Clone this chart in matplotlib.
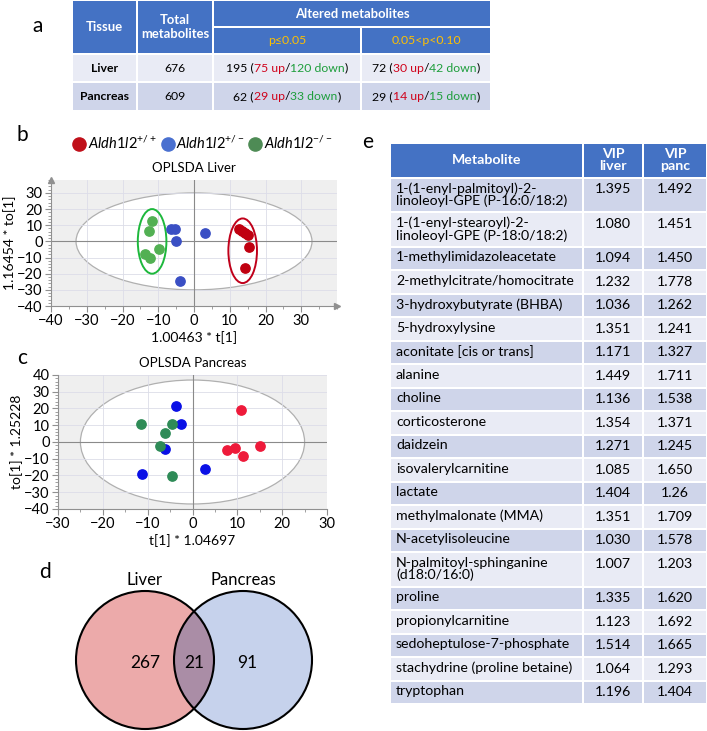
import numpy as np
import matplotlib.pyplot as plt
from matplotlib.patches import Rectangle, Ellipse, Circle
from matplotlib.lines import Line2D
from matplotlib.ticker import MultipleLocator

plt.rcParams['font.family'] = ['Lato', 'DejaVu Sans']
plt.rcParams['mathtext.fontset'] = 'custom'
plt.rcParams['mathtext.it'] = 'Lato:italic'
plt.rcParams['mathtext.rm'] = 'Lato'

W, H = 707, 731

# ---------- panel a data ----------
tissues = ["Liver", "Pancreas"]
total_metabolites = [676, 609]
p05_total = [195, 62]
p05_up = [75, 29]
p05_down = [120, 33]
p10_total = [72, 29]
p10_up = [30, 14]
p10_down = [42, 15]

# ---------- panel b data (OPLSDA liver scores) ----------
liver_wt_x = [12.6, 13.5, 14.2, 15.2, 15.5, 14.3]
liver_wt_y = [7.5, 6.5, 5.2, 4.0, -3.5, -16.5]
liver_het_x = [-6.3, -5.3, -4.9, 3.2, -3.8]
liver_het_y = [7.8, 7.8, 0.5, 5.5, -24.5]
liver_ko_x = [-11.8, -12.6, -9.7, -13.7, -12.3]
liver_ko_y = [12.5, 6.5, -4.5, -8.0, -10.5]

# ---------- panel c data (OPLSDA pancreas scores) ----------
panc_wt_x = [10.8, 7.8, 9.5, 11.3, 15.1]
panc_wt_y = [19.3, -4.7, -3.7, -8.5, -2.4]
panc_het_x = [-3.7, -2.6, -6.2, -11.2, 2.7]
panc_het_y = [21.3, 10.5, -3.9, -19.1, -16.0]
panc_ko_x = [-11.4, -4.5, -6.1, -7.3, -4.5]
panc_ko_y = [10.5, 10.5, 5.1, -2.4, -20.1]

# ---------- panel d data ----------
venn_labels = ["Liver", "Pancreas"]
venn_counts = [267, 21, 91]   # liver only, shared, pancreas only

# ---------- panel e data ----------
metabolites = [
    "1-(1-enyl-palmitoyl)-2-\nlinoleoyl-GPE (P-16:0/18:2)",
    "1-(1-enyl-stearoyl)-2-\nlinoleoyl-GPE (P-18:0/18:2)",
    "1-methylimidazoleacetate",
    "2-methylcitrate/homocitrate",
    "3-hydroxybutyrate (BHBA)",
    "5-hydroxylysine",
    "aconitate [cis or trans]",
    "alanine",
    "choline",
    "corticosterone",
    "daidzein",
    "isovalerylcarnitine",
    "lactate",
    "methylmalonate (MMA)",
    "N-acetylisoleucine",
    "N-palmitoyl-sphinganine\n(d18:0/16:0)",
    "proline",
    "propionylcarnitine",
    "sedoheptulose-7-phosphate",
    "stachydrine (proline betaine)",
    "tryptophan",
]
vip_liver = ["1.395", "1.080", "1.094", "1.232", "1.036", "1.351", "1.171",
             "1.449", "1.136", "1.354", "1.271", "1.085", "1.404", "1.351",
             "1.030", "1.007", "1.335", "1.123", "1.514", "1.064", "1.196"]
vip_panc = ["1.492", "1.451", "1.450", "1.778", "1.262", "1.241", "1.327",
            "1.711", "1.538", "1.371", "1.245", "1.650", "1.26", "1.709",
            "1.578", "1.203", "1.620", "1.692", "1.665", "1.293", "1.404"]

HEAD = '#4472C4'
LIGHT = '#E9EBF5'
DARK = '#CFD5EA'
YELLOW = '#FFC000'
RED_T = '#D0021B'
GREEN_T = '#1E9E3C'

fig = plt.figure(figsize=(W / 100, H / 100), dpi=100)
ov = fig.add_axes([0, 0, 1, 1])
ov.set_xlim(0, W)
ov.set_ylim(H, 0)
ov.axis('off')
renderer = fig.canvas.get_renderer()


def cell(x0, x1, y0, y1, color, gap=1.0):
    ov.add_patch(Rectangle((x0 + gap, y0 + gap), x1 - x0 - 2 * gap, y1 - y0 - 2 * gap,
                           facecolor=color, edgecolor='none', zorder=1))


def color_text(x, y, parts, size):
    texts = [ov.text(0, y, s, color=c, fontsize=size, va='center', ha='left', zorder=3)
             for s, c in parts]
    widths = [t.get_window_extent(renderer).width for t in texts]
    cur = x - sum(widths) / 2
    for t, w in zip(texts, widths):
        t.set_x(cur)
        cur += w


# ---------- panel a: summary table ----------
FA = 8.8
ov.text(38, 26, "a", fontsize=15, ha='center', va='center')
cols = [72, 137, 213, 361, 491]
rows = [0, 27, 54, 82, 111]
cell(cols[0], cols[1], rows[0], rows[2], HEAD)
cell(cols[1], cols[2], rows[0], rows[2], HEAD)
cell(cols[2], cols[4], rows[0], rows[1], HEAD)
cell(cols[2], cols[3], rows[1], rows[2], HEAD)
cell(cols[3], cols[4], rows[1], rows[2], HEAD)
ov.text((cols[0] + cols[1]) / 2, (rows[0] + rows[2]) / 2, "Tissue", color='white',
        fontsize=9.4, fontweight='bold', ha='center', va='center')
ov.text((cols[1] + cols[2]) / 2, (rows[0] + rows[2]) / 2, "Total\nmetabolites", color='white',
        fontsize=9.4, fontweight='bold', ha='center', va='center', linespacing=1.2)
ov.text((cols[2] + cols[4]) / 2, (rows[0] + rows[1]) / 2, "Altered metabolites", color='white',
        fontsize=9.4, fontweight='bold', ha='center', va='center')
ov.text((cols[2] + cols[3]) / 2, (rows[1] + rows[2]) / 2, "p≤0.05", color=YELLOW,
        fontsize=FA, ha='center', va='center')
ov.text((cols[3] + cols[4]) / 2, (rows[1] + rows[2]) / 2, "0.05<p<0.10", color=YELLOW,
        fontsize=FA, ha='center', va='center')

for i, t in enumerate(tissues):
    y0, y1 = rows[2 + i], rows[3 + i]
    bg = LIGHT if i == 0 else DARK
    for c0, c1 in zip(cols[:-1], cols[1:]):
        cell(c0, c1, y0, y1, bg)
    yc = (y0 + y1) / 2
    ov.text((cols[0] + cols[1]) / 2, yc, t, fontsize=FA, fontweight='bold', ha='center', va='center')
    ov.text((cols[1] + cols[2]) / 2, yc, str(total_metabolites[i]), fontsize=FA, ha='center', va='center')
    color_text((cols[2] + cols[3]) / 2, yc,
               [(f"{p05_total[i]} (", 'black'), (f"{p05_up[i]} up", RED_T), ("/", 'black'),
                (f"{p05_down[i]} down", GREEN_T), (")", 'black')], FA)
    color_text((cols[3] + cols[4]) / 2, yc,
               [(f"{p10_total[i]} (", 'black'), (f"{p10_up[i]} up", RED_T), ("/", 'black'),
                (f"{p10_down[i]} down", GREEN_T), (")", 'black')], FA)


# ---------- panels b, c: score plots ----------
def style_scores(ax, ell_w, ell_h, xlabel, ylabel, title):
    ax.set_facecolor('#efefef')
    ax.add_patch(Ellipse((0, 0), ell_w, ell_h, facecolor='white', edgecolor='#b0b0b0',
                         lw=0.9, zorder=0.2))
    ax.set_axisbelow(True)
    ax.grid(True, color='#dcdde8', lw=0.6)
    ax.axhline(0, color='#8a8a8a', lw=0.8, zorder=1)
    ax.axvline(0, color='#8a8a8a', lw=0.8, zorder=1)
    for s in ['top', 'right']:
        ax.spines[s].set_visible(False)
    for s in ['left', 'bottom']:
        ax.spines[s].set_color('#909090')
    ax.xaxis.set_major_locator(MultipleLocator(10))
    ax.yaxis.set_major_locator(MultipleLocator(10))
    ax.xaxis.set_minor_locator(MultipleLocator(5))
    ax.yaxis.set_minor_locator(MultipleLocator(2))
    ax.tick_params(which='both', colors='#909090', labelcolor='black', labelsize=10.5, pad=2)
    ax.tick_params(which='major', length=4)
    ax.tick_params(which='minor', length=2)
    ax.set_xlabel(xlabel, fontsize=10, labelpad=2)
    ax.set_ylabel(ylabel, fontsize=10, labelpad=1)
    ax.set_title(title, fontsize=9.5, pad=6)


def px_axes(x0, x1, y0, y1):
    return fig.add_axes([x0 / W, 1 - y1 / H, (x1 - x0) / W, (y1 - y0) / H])


axb = px_axes(51, 337, 180, 306)
axb.set_xlim(-40, 40)
axb.set_ylim(-40, 38)
style_scores(axb, 66, 60, "1.00463 * t[1]", "1.16454 * to[1]", "OPLSDA Liver")
axb.set_xticks(range(-40, 31, 10))
axb.add_patch(Ellipse((np.mean(liver_ko_x) + 0.3, 0), 8, 40, facecolor='none',
                      edgecolor='#1DB83C', lw=1.4, zorder=2))
axb.add_patch(Ellipse((np.mean(liver_wt_x) - 0.6, -5.8), 8, 40, facecolor='none',
                      edgecolor='#C0001A', lw=1.4, zorder=2))
axb.scatter(liver_wt_x, liver_wt_y, s=45, color='#C00010', zorder=3)
axb.scatter(liver_het_x, liver_het_y, s=45, color='#3A4FC4', zorder=3)
axb.scatter(liver_ko_x, liver_ko_y, s=45, color='#52B053', zorder=3)
axb.plot(1, 0, '>', color='#909090', ms=5, transform=axb.transAxes, clip_on=False)
axb.plot(0, 1, '^', color='#909090', ms=5, transform=axb.transAxes, clip_on=False)

axc = px_axes(58, 327, 375, 509)
axc.set_xlim(-30, 30)
axc.set_ylim(-40, 40)
style_scores(axc, 50, 74, "t[1] * 1.04697", "to[1] * 1.25228", "OPLSDA Pancreas")
axc.scatter(panc_wt_x, panc_wt_y, s=45, color='#EE1A3A', zorder=3)
axc.scatter(panc_het_x, panc_het_y, s=45, color='#0A10E6', zorder=3)
axc.scatter(panc_ko_x, panc_ko_y, s=45, color='#2E8B57', zorder=3)

ov.text(22, 135, "b", fontsize=15, ha='center', va='center')
ov.text(22, 358, "c", fontsize=15, ha='center', va='center')

handles = [Line2D([], [], ls='none', marker='o', ms=9.5, color=c)
           for c in ['#C0101A', '#4A70D0', '#4E8B55']]
labels = [r"$\mathit{Aldh1l2}^{+/+}$", r"$\mathit{Aldh1l2}^{+/-}$", r"$\mathit{Aldh1l2}^{-/-}$"]
fig.legend(handles, labels, loc='center', bbox_to_anchor=(203 / W, 1 - 143 / H), ncol=3,
           frameon=False, fontsize=10.5, handletextpad=0.2, columnspacing=0.35,
           handlelength=0.8, borderpad=0.1)

# ---------- panel d: Venn ----------
ov.text(45, 572, "d", fontsize=15, ha='center', va='center')
r = 69
cx = [145, 243]
cy = 660
liv = Circle((cx[0], cy), r, facecolor='#ECAAAA', edgecolor='none', zorder=1)
pan = Circle((cx[1], cy), r, facecolor='#C6D2EC', edgecolor='none', zorder=1)
ov.add_patch(liv)
ov.add_patch(pan)
both = Circle((cx[0], cy), r, facecolor='#AA8DA6', edgecolor='none', zorder=1.5)
ov.add_patch(both)
both.set_clip_path(pan)
for x in cx:
    ov.add_patch(Circle((x, cy), r, facecolor='none', edgecolor='black', lw=1.5, zorder=2))
for x, lab in zip(cx, venn_labels):
    ov.text(x, 580, lab, fontsize=12, ha='center', va='center')
count_x = [cx[0], (cx[0] + cx[1]) / 2, cx[1] + 4]
for x, n in zip(count_x, venn_counts):
    ov.text(x, cy + 3, str(n), fontsize=12.5, ha='center', va='center', zorder=3)

# ---------- panel e: VIP table ----------
FE = 10.2
ov.text(368, 142, "e", fontsize=15, ha='center', va='center')
ecols = [390, 583, 643, 707]
top = 143
head_h = 34.5
single_h = 23.5
double_h = 34.5
cell(ecols[0], ecols[1], top, top + head_h, HEAD)
cell(ecols[1], ecols[2], top, top + head_h, HEAD)
cell(ecols[2], ecols[3], top, top + head_h, HEAD)
hy = top + head_h / 2
ov.text((ecols[0] + ecols[1]) / 2, hy, "Metabolite", color='white', fontsize=FE,
        fontweight='bold', ha='center', va='center')
ov.text((ecols[1] + ecols[2]) / 2, hy, "VIP\nliver", color='white', fontsize=FE,
        fontweight='bold', ha='center', va='center', linespacing=1.0)
ov.text((ecols[2] + ecols[3]) / 2, hy, "VIP\npanc", color='white', fontsize=FE,
        fontweight='bold', ha='center', va='center', linespacing=1.0)

y = top + head_h
for i, (name, vl, vp) in enumerate(zip(metabolites, vip_liver, vip_panc)):
    nlines = name.count("\n") + 1
    h = single_h if nlines == 1 else double_h
    bg = DARK if i % 2 == 0 else LIGHT
    for c0, c1 in zip(ecols[:-1], ecols[1:]):
        cell(c0, c1, y, y + h, bg)
    ty = y + single_h / 2
    ov.text(ecols[0] + 6, ty - 7, name, fontsize=FE, ha='left', va='top', linespacing=1.0)
    ov.text((ecols[1] + ecols[2]) / 2, ty, vl, fontsize=FE, ha='center', va='center')
    ov.text((ecols[2] + ecols[3]) / 2, ty, vp, fontsize=FE, ha='center', va='center')
    y += h

fig.savefig("out.png", dpi=100)
